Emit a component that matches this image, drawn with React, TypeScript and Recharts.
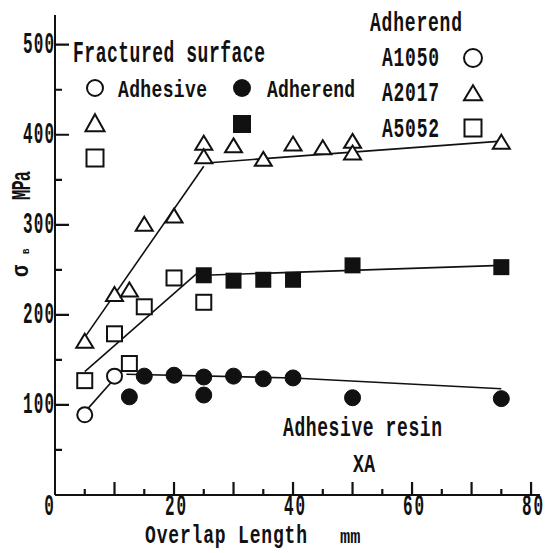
import React from 'react';
import { ComposedChart, XAxis, YAxis, Scatter, Line } from 'recharts';

// ---- axis ticks ----
const xMajorTicks = [10, 20, 30, 40, 50, 60, 70, 80];
const xMinorTicks = [5, 15, 25, 35, 45, 55, 65, 75];
const xTickLabels = [0, 20, 40, 60, 80];
const yMajorTicks = [100, 200, 300, 400, 500];
const yMinorTicks = [50, 150, 250, 350, 450];
const yTickLabels = [100, 200, 300, 400, 500];

// ---- data (Overlap length mm, sigma_B MPa) ----
const a1050Adhesive = [
  { x: 5, y: 89 },
  { x: 10, y: 132 },
];
const a1050Adherend = [
  { x: 12.5, y: 109 },
  { x: 15, y: 132 },
  { x: 20, y: 133 },
  { x: 25, y: 131 },
  { x: 25, y: 111 },
  { x: 30, y: 132 },
  { x: 35, y: 129 },
  { x: 40, y: 130 },
  { x: 50, y: 108 },
  { x: 75, y: 107 },
];
const a2017Adhesive = [
  { x: 5, y: 170 },
  { x: 10, y: 222 },
  { x: 12.5, y: 227 },
  { x: 15, y: 300 },
  { x: 20, y: 309 },
  { x: 25, y: 390 },
  { x: 25, y: 375 },
  { x: 30, y: 387 },
  { x: 35, y: 372 },
  { x: 40, y: 389 },
  { x: 45, y: 385 },
  { x: 50, y: 392 },
  { x: 50, y: 379 },
  { x: 75, y: 391 },
];
const a5052Adhesive = [
  { x: 5, y: 127 },
  { x: 10, y: 179 },
  { x: 12.5, y: 146 },
  { x: 15, y: 209 },
  { x: 20, y: 241 },
  { x: 25, y: 214 },
];
const a5052Adherend = [
  { x: 25, y: 244 },
  { x: 30, y: 238 },
  { x: 35, y: 239 },
  { x: 40, y: 239 },
  { x: 50, y: 255 },
  { x: 75, y: 253 },
];

// ---- hand-drawn trend lines ----
const fitA2017Rise = [
  { x: 5, y: 175 },
  { x: 25, y: 365 },
];
const fitA2017Flat = [
  { x: 26, y: 369 },
  { x: 75, y: 393 },
];
const fitA5052Rise = [
  { x: 5, y: 137 },
  { x: 24, y: 247 },
];
const fitA5052Flat = [
  { x: 25, y: 244 },
  { x: 75, y: 255 },
];
const fitA1050Rise = [
  { x: 5, y: 92 },
  { x: 10.5, y: 133 },
];
const fitA1050Flat = [
  { x: 12, y: 134 },
  { x: 40, y: 130 },
  { x: 75, y: 118 },
];

// ---- chart geometry ----
const W = 549;
const H = 553;
const PLOT_LEFT = 55;
const PLOT_TOP = 15;
const PLOT_RIGHT_PAD = 9;
const PLOT_BOTTOM_PAD = 58;
const PLOT_W = W - PLOT_LEFT - PLOT_RIGHT_PAD;
const PLOT_H = H - PLOT_TOP - PLOT_BOTTOM_PAD;
const X_MAX = 81.5;
const Y_MAX = 533;
const sx = (v: number) => PLOT_LEFT + (v / X_MAX) * PLOT_W;
const syv = (v: number) => PLOT_TOP + PLOT_H * (1 - v / Y_MAX);

const INK = '#111';
const FONT = '"Liberation Mono", "DejaVu Sans Mono", monospace';

type TProps = {
  x: number;
  y: number;
  w?: number;
  text: string;
  fs?: number;
  sy?: number;
  rot?: number;
  anchor?: 'start' | 'middle' | 'end';
};

function T({ x, y, w, text, fs = 18, sy = 1.5, rot = 0, anchor = 'start' }: TProps) {
  const tr = `translate(${x},${y})${rot ? ` rotate(${rot})` : ''} scale(1,${sy})`;
  return (
    <text
      transform={tr}
      x={0}
      y={0}
      fontFamily={FONT}
      fontWeight="bold"
      fontSize={fs}
      fill={INK}
      stroke="none"
      textAnchor={anchor}
      textLength={w && text.length > 1 ? w : undefined}
      lengthAdjust="spacing"
    >
      {text}
    </text>
  );
}

function YTickLabel(props: any) {
  const { y, payload } = props;
  const v = payload.value as number;
  if (!yTickLabels.includes(v)) return <g />;
  return <T x={23} y={y + 8} w={31} text={String(v)} fs={16} sy={1.8} />;
}

function XTickLabel(props: any) {
  const { x, payload } = props;
  const v = payload.value as number;
  if (!xTickLabels.includes(v)) return <g />;
  return v === 0 ? (
    <T x={x - 6} y={515} text="0" fs={16} sy={1.8} anchor="middle" />
  ) : (
    <T x={x - 9} y={515} w={21} text={String(v)} fs={16} sy={1.8} />
  );
}

function OpenCircle(props: any) {
  const { cx, cy } = props;
  return <circle cx={cx} cy={cy} r={7.5} fill="#fff" stroke={INK} strokeWidth={2} />;
}
function FilledCircle(props: any) {
  const { cx, cy } = props;
  return <circle cx={cx} cy={cy} r={8} fill={INK} stroke={INK} strokeWidth={1} />;
}
function triPath(cx: number, cy: number, w: number, h: number) {
  return `M${cx},${cy - h * 0.58} L${cx + w / 2},${cy + h * 0.42} L${cx - w / 2},${cy + h * 0.42} Z`;
}
function OpenTriangle(props: any) {
  const { cx, cy } = props;
  return <path d={triPath(cx, cy, 17, 14)} fill="#fff" stroke={INK} strokeWidth={2} strokeLinejoin="miter" />;
}
function OpenSquare(props: any) {
  const { cx, cy } = props;
  return <rect x={cx - 7.5} y={cy - 7.5} width={15} height={15} fill="#fff" stroke={INK} strokeWidth={2} />;
}
function FilledSquare(props: any) {
  const { cx, cy } = props;
  return <rect x={cx - 8} y={cy - 8} width={16} height={16} fill={INK} />;
}

export default function App() {
  const baseY = PLOT_TOP + PLOT_H;
  const tickPath =
    xMajorTicks.map((v) => `M${sx(v)},${baseY}V${baseY - 13}`).join('') +
    xMinorTicks.map((v) => `M${sx(v)},${baseY}V${baseY - 6}`).join('') +
    yMajorTicks.map((v) => `M${PLOT_LEFT},${syv(v)}H${PLOT_LEFT + 14}`).join('') +
    yMinorTicks.map((v) => `M${PLOT_LEFT},${syv(v)}H${PLOT_LEFT + 7}`).join('');
  return (
    <div style={{ position: 'absolute', left: 0, top: 0, width: W, height: H, background: '#fff' }}>
      <ComposedChart
        width={W}
        height={H}
        margin={{ top: PLOT_TOP, right: PLOT_RIGHT_PAD, left: PLOT_LEFT - 1, bottom: PLOT_BOTTOM_PAD - 1 }}
      >
        <XAxis
          dataKey="x"
          type="number"
          domain={[0, X_MAX]}
          ticks={[0, 20, 40, 60, 80]}
          interval={0}
          height={1}
          tickSize={0}
          tickMargin={0}
          tick={<XTickLabel />}
          axisLine={{ stroke: INK, strokeWidth: 2 }}
          tickLine={false}
        />
        <YAxis
          dataKey="y"
          type="number"
          domain={[0, Y_MAX]}
          ticks={yMajorTicks}
          interval={0}
          width={1}
          tickSize={0}
          tickMargin={0}
          tick={<YTickLabel />}
          axisLine={{ stroke: INK, strokeWidth: 2 }}
          tickLine={false}
        />
        {[fitA2017Rise, fitA2017Flat, fitA5052Rise, fitA5052Flat, fitA1050Rise, fitA1050Flat].map((d, i) => (
          <Line
            key={i}
            data={d}
            dataKey="y"
            type="linear"
            stroke={INK}
            strokeWidth={1.6}
            dot={false}
            activeDot={false}
            isAnimationActive={false}
            legendType="none"
          />
        ))}
        <Scatter data={a2017Adhesive} dataKey="y" shape={<OpenTriangle />} isAnimationActive={false} />
        <Scatter data={a5052Adhesive} dataKey="y" shape={<OpenSquare />} isAnimationActive={false} />
        <Scatter data={a5052Adherend} dataKey="y" shape={<FilledSquare />} isAnimationActive={false} />
        <Scatter data={a1050Adhesive} dataKey="y" shape={<OpenCircle />} isAnimationActive={false} />
        <Scatter data={a1050Adherend} dataKey="y" shape={<FilledCircle />} isAnimationActive={false} />
      </ComposedChart>
      <svg
        width={W}
        height={H}
        style={{ position: 'absolute', left: 0, top: 0, pointerEvents: 'none' }}
      >
        {/* inward tick marks */}
        <path d={tickPath} stroke={INK} strokeWidth={2.2} fill="none" />

        {/* Fractured surface legend */}
        <T x={73} y={62} w={192} text="Fractured surface" fs={18} sy={1.6} />
        <circle cx={95} cy={88} r={8} fill="#fff" stroke={INK} strokeWidth={2} />
        <T x={118} y={97} w={89} text="Adhesive" fs={18} sy={1.3} />
        <circle cx={242} cy={88} r={9} fill={INK} />
        <T x={267} y={97} w={88} text="Adherend" fs={18} sy={1.3} />
        <path d={triPath(95, 124, 19, 17)} fill="#fff" stroke={INK} strokeWidth={2} />
        <rect x={233} y={115} width={18} height={18} fill={INK} />
        <rect x={86.5} y={149.5} width={17} height={17} fill="#fff" stroke={INK} strokeWidth={2} />

        {/* Adherend legend */}
        <T x={370} y={31} w={92} text="Adherend" fs={18} sy={1.55} />
        <T x={382} y={66} w={57} text="A1050" fs={18} sy={1.55} />
        <T x={382} y={101} w={57} text="A2017" fs={18} sy={1.55} />
        <T x={382} y={137} w={57} text="A5052" fs={18} sy={1.55} />
        <circle cx={473} cy={58} r={9} fill="#fff" stroke={INK} strokeWidth={2} />
        <path d={triPath(473, 94, 18, 15)} fill="#fff" stroke={INK} strokeWidth={2} />
        <rect x={464.5} y={119.5} width={17} height={17} fill="#fff" stroke={INK} strokeWidth={2} />

        {/* Adhesive annotation */}
        <T x={283} y={436} w={159} text="Adhesive resin" fs={18} sy={1.5} />
        <T x={353} y={472} w={22} text="XA" fs={18} sy={1.45} />

        {/* Axis titles */}
        <T x={145} y={543} w={162} text="Overlap Length" fs={18} sy={1.45} />
        <T x={340} y={543} text="mm" fs={17} sy={1.2} />
        <T x={30} y={200} w={29} text="MPa" fs={17} sy={1.6} rot={-90} />
        <T x={28} y={277} text="σ" fs={20} sy={1.2} rot={-90} />
        <T x={29} y={254} text="B" fs={9} sy={1.1} rot={-90} />
      </svg>
    </div>
  );
}
